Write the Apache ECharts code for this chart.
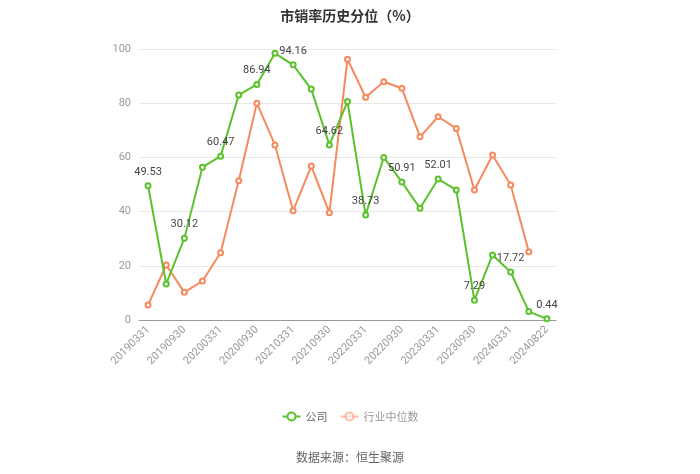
<!DOCTYPE html>
<html><head><meta charset="utf-8">
<script src="https://cdn.jsdelivr.net/npm/echarts@6/dist/echarts.min.js"></script>
<style>html,body{margin:0;padding:0;background:#fff}#c{width:700px;height:474px}</style>
</head><body><div id="c"></div>
<script>
const categories = ['20190331','20190630','20190930','20191231','20200331','20200630','20200930','20201231','20210331','20210630','20210930','20211231','20220331','20220630','20220930','20221231','20230331','20230630','20230930','20231231','20240331','20240630','20240822'];
const companyValues = [49.53,13.3,30.12,56.4,60.47,83.0,86.94,98.4,94.16,85.2,64.62,80.6,38.73,60.0,50.91,41.2,52.01,48.0,7.29,24.0,17.72,3.1,0.44];
const industryValues = [5.5,20.3,10.2,14.4,24.8,51.4,80.0,64.6,40.3,56.8,39.6,96.2,82.2,87.9,85.5,67.6,75.0,70.7,48.0,60.9,49.8,25.2,null];
const yTicks = {min:0, max:100, interval:20};

const chart = echarts.init(document.getElementById('c'));
chart.setOption({
  animation:false,
  title:{text:'市销率历史分位（%）', left:'center', top:4, textStyle:{fontSize:14, fontWeight:'bold', color:'#333', fontFamily:'Noto Sans CJK SC'}},
  grid:{left:139, right:144, top:49, bottom:154},
  legend:{top:406, left:'center', itemWidth:18, itemHeight:10, itemGap:12, textStyle:{color:'#666', fontSize:11, fontFamily:'Noto Sans CJK SC'},
    data:[{name:'公司'},{name:'行业中位数', itemStyle:{opacity:0.55}, lineStyle:{opacity:0.55}, textStyle:{color:'#999'}}]},
  graphic:[{type:'text', left:'center', top:451, style:{text:'数据来源：恒生聚源', fill:'#666', font:'12px "Noto Sans CJK SC"'}}],
  xAxis:{type:'category', data:categories, boundaryGap:true,
    axisLine:{lineStyle:{color:'#999'}},
    axisTick:{alignWithLabel:true, interval:1, lineStyle:{color:'#999'}},
    axisLabel:{interval:1, rotate:45, color:'#999', fontSize:11, fontFamily:'Roboto'}},
  yAxis:{type:'value', min:yTicks.min, max:yTicks.max, interval:yTicks.interval,
    axisLine:{show:false}, axisTick:{show:false},
    axisLabel:{color:'#999', fontSize:11, fontFamily:'Roboto'},
    splitLine:{lineStyle:{color:'#e8e8e8'}}},
  series:[
    {name:'公司', type:'line', data:companyValues, symbol:'emptyCircle', symbolSize:5,
     itemStyle:{color:'#5bc22b'}, lineStyle:{width:2, color:'#5bc22b'},
     label:{show:true, position:'top', color:'#444', fontSize:11, fontFamily:'Roboto',
       formatter:p=> p.dataIndex%2===0 ? p.value : ''}, z:3},
    {name:'行业中位数', type:'line', data:industryValues, symbol:'emptyCircle', symbolSize:5,
     itemStyle:{color:'#f7895e'}, lineStyle:{width:2, color:'#f7895e'}, z:2}
  ]
});
</script></body></html>
